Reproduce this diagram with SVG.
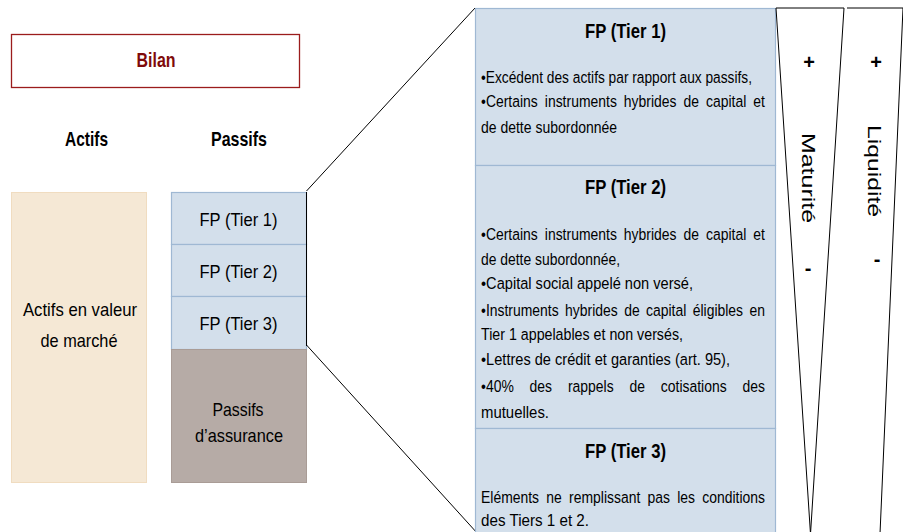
<svg xmlns="http://www.w3.org/2000/svg" width="903" height="532" viewBox="0 0 903 532">
<style>
text{font-family:"Liberation Sans",Arial,sans-serif;fill:#000}
.hd{font-size:21px;font-weight:bold;text-anchor:middle}
.ph{font-size:20px;font-weight:bold;text-anchor:middle}
.lb{font-size:18.5px;text-anchor:middle}
.bd{font-size:17px}
.sg{font-size:20px;font-weight:bold;text-anchor:middle}
.vt{font-size:18px}
.blue{fill:#d3dfeb;stroke:#9fb8d3;stroke-width:1.2}
.line{stroke:#000;stroke-width:1;fill:none}
.tri{fill:#fff;stroke:#000;stroke-width:1}
</style>
<rect width="903" height="532" fill="#fff"/>
<g id="bilan">
<rect x="11.5" y="34.5" width="288" height="53" fill="#fff" stroke="#9b1c1c" stroke-width="1.3"/>
<text x="156" y="67" class="hd" style="fill:#7f0a0a" textLength="39" lengthAdjust="spacingAndGlyphs">Bilan</text>
</g>
<g id="actifs-title"><text x="86.5" y="146" class="hd" textLength="43" lengthAdjust="spacingAndGlyphs">Actifs</text></g>
<g id="passifs-title"><text x="239" y="146" class="hd" textLength="56" lengthAdjust="spacingAndGlyphs">Passifs</text></g>
<g id="actifs">
<rect x="11.5" y="192.5" width="135" height="290" fill="#f5e8d5" stroke="#f0dcc0"/>
<text x="80" y="316" class="lb" textLength="114" lengthAdjust="spacingAndGlyphs">Actifs en valeur</text>
<text x="79" y="347" class="lb" textLength="77" lengthAdjust="spacingAndGlyphs">de marché</text>
</g>
<g id="tier1"><rect x="171.5" y="192.5" width="135" height="52" class="blue"/><text x="238.5" y="226" class="lb" textLength="78" lengthAdjust="spacingAndGlyphs">FP (Tier 1)</text></g>
<g id="tier2"><rect x="171.5" y="244.5" width="135" height="52" class="blue"/><text x="238.5" y="278" class="lb" textLength="78" lengthAdjust="spacingAndGlyphs">FP (Tier 2)</text></g>
<g id="tier3"><rect x="171.5" y="296.5" width="135" height="53" class="blue"/><text x="238.5" y="330" class="lb" textLength="78" lengthAdjust="spacingAndGlyphs">FP (Tier 3)</text></g>
<g id="passifs-assurance">
<rect x="171.5" y="349.5" width="135" height="133" fill="#b6aba6" stroke="#a99c96"/>
<text x="238" y="416" class="lb" textLength="51" lengthAdjust="spacingAndGlyphs">Passifs</text>
<text x="239" y="442" class="lb" textLength="88" lengthAdjust="spacingAndGlyphs">d’assurance</text>
</g>
<g id="connectors">
<path class="line" d="M306.5 192 L306.5 346"/>
<path class="line" d="M306.5 191 L475 8"/>
<path class="line" d="M306.5 345 L478 534"/>
</g>
<g id="panel-tier1">
<rect x="475.5" y="8.5" width="300" height="157" class="blue"/>
<text x="625.5" y="38" class="ph" textLength="81" lengthAdjust="spacingAndGlyphs">FP (Tier 1)</text>
<g transform="scale(0.82 1)">
<text x="586.6" y="83" class="bd" textLength="330.5" lengthAdjust="spacingAndGlyphs">•Excédent des actifs par rapport aux passifs,</text>
<text x="586.6" y="107" class="bd" style="word-spacing:3.8px" textLength="346.3" lengthAdjust="spacing">•Certains instruments hybrides de capital et</text>
<text x="586.6" y="133" class="bd" textLength="165.9" lengthAdjust="spacingAndGlyphs">de dette subordonnée</text>
</g>
</g>
<g id="panel-tier2">
<rect x="475.5" y="165.5" width="300" height="263" class="blue"/>
<text x="625.5" y="194" class="ph" textLength="81" lengthAdjust="spacingAndGlyphs">FP (Tier 2)</text>
<g transform="scale(0.82 1)">
<text x="586.6" y="240" class="bd" style="word-spacing:3.8px" textLength="346.3" lengthAdjust="spacing">•Certains instruments hybrides de capital et</text>
<text x="586.6" y="265" class="bd" textLength="169.5" lengthAdjust="spacingAndGlyphs">de dette subordonnée,</text>
<text x="586.6" y="289" class="bd" textLength="258.5" lengthAdjust="spacingAndGlyphs">•Capital social appelé non versé,</text>
<text x="586.6" y="316" class="bd" style="word-spacing:3.1px" textLength="346.3" lengthAdjust="spacing">•Instruments hybrides de capital éligibles en</text>
<text x="586.6" y="340" class="bd" textLength="246.3" lengthAdjust="spacingAndGlyphs">Tier 1 appelables et non versés,</text>
<text x="586.6" y="365" class="bd" textLength="303.7" lengthAdjust="spacingAndGlyphs">•Lettres de crédit et garanties (art. 95),</text>
<text x="586.6" y="392" class="bd" style="word-spacing:14.6px" textLength="346.3" lengthAdjust="spacing">•40% des rappels de cotisations des</text>
<text x="586.6" y="418" class="bd" textLength="82.9" lengthAdjust="spacingAndGlyphs">mutuelles.</text>
</g>
</g>
<g id="panel-tier3">
<rect x="475.5" y="428.5" width="300" height="110" class="blue"/>
<text x="625.5" y="458" class="ph" textLength="81" lengthAdjust="spacingAndGlyphs">FP (Tier 3)</text>
<g transform="scale(0.82 1)">
<text x="586.6" y="503" class="bd" style="word-spacing:4.1px" textLength="346.3" lengthAdjust="spacing">Eléments ne remplissant pas les conditions</text>
<text x="586.6" y="526" class="bd" textLength="131.7" lengthAdjust="spacingAndGlyphs">des Tiers 1 et  2.</text>
</g>
</g>
<g id="maturite">
<path class="tri" d="M776 8 L844 8 L810.5 534 Z"/>
<text x="809" y="69" class="sg">+</text>
<text transform="translate(802 133) rotate(90)" class="vt" textLength="90" lengthAdjust="spacingAndGlyphs">Maturité</text>
<text x="808" y="275" class="sg">-</text>
</g>
<g id="liquidite">
<path class="tri" d="M847 8 L903 8 L880 534"/>
<text x="876" y="69" class="sg">+</text>
<text transform="translate(868 125) rotate(90)" class="vt" textLength="92" lengthAdjust="spacingAndGlyphs">Liquidité</text>
<text x="877" y="266" class="sg">-</text>
</g>
</svg>
